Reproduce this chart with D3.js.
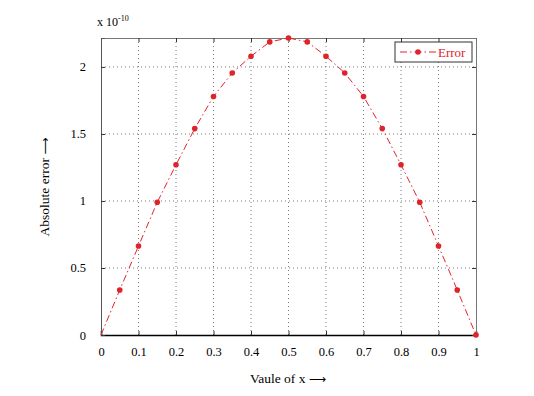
<!DOCTYPE html>
<html><head><meta charset="utf-8">
<script src="https://cdn.jsdelivr.net/npm/d3@7"></script>
<style>body{margin:0;background:#fff}svg{display:block}text{font-family:"Liberation Serif","Times New Roman",serif;}</style>
</head><body><svg id="c" width="534" height="396"></svg>
<script>
const xVals=[0,0.05,0.1,0.15,0.2,0.25,0.3,0.35,0.4,0.45,0.5,0.55,0.6,0.65,0.7,0.75,0.8,0.85,0.9,0.95,1];
const errVals=[0,0.336,0.664,0.99,1.27,1.54,1.78,1.955,2.08,2.187,2.216,2.187,2.08,1.955,1.78,1.54,1.27,0.99,0.664,0.336,0];
const xTicks=[0,0.1,0.2,0.3,0.4,0.5,0.6,0.7,0.8,0.9,1];
const yTicks=[0,0.5,1,1.5,2];
const seriesName="Error";

const svg=d3.select("#c");
const L=101,R=476,T=38,B=335;
const x=d3.scaleLinear().domain([0,1]).range([L,R]);
const y=d3.scaleLinear().domain([0,2.216]).range([B,T]);
const red="#e0232b";

// grid
const g=svg.append("g");
g.selectAll(".vg").data(xTicks.slice(1,-1)).enter().append("line")
 .attr("x1",d=>x(d)).attr("x2",d=>x(d)).attr("y1",T).attr("y2",B)
 .attr("stroke","#555").attr("stroke-width",0.8).attr("stroke-dasharray","1,3");
g.selectAll(".hg").data(yTicks.slice(1)).enter().append("line")
 .attr("x1",L).attr("x2",R).attr("y1",d=>y(d)).attr("y2",d=>y(d))
 .attr("stroke","#555").attr("stroke-width",0.8).attr("stroke-dasharray","1,3");

// axes
const xa=svg.append("g").attr("transform",`translate(0,${B})`)
 .call(d3.axisBottom(x).tickValues(xTicks).tickFormat(d3.format("")).tickSize(-4).tickPadding(12));
const xt=svg.append("g").attr("transform",`translate(0,${T})`)
 .call(d3.axisTop(x).tickValues(xTicks).tickFormat("").tickSize(-4));
const ya=svg.append("g").attr("transform",`translate(${L},0)`)
 .call(d3.axisLeft(y).tickValues(yTicks).tickFormat(d3.format("")).tickSize(-4).tickPadding(15));
const yr=svg.append("g").attr("transform",`translate(${R},0)`)
 .call(d3.axisRight(y).tickValues(yTicks).tickFormat("").tickSize(-4));
[xa,xt,ya,yr].forEach(a=>{
  a.selectAll("text").attr("font-size",12.5).attr("fill","#000").style("font-family",'"Liberation Serif",serif');
  a.selectAll("line").attr("stroke","#333");
});
xt.select(".domain").attr("stroke","#777");
yr.select(".domain").attr("stroke","#777");
ya.select(".domain").attr("stroke","#555");
xa.select(".domain").attr("stroke","#000").attr("stroke-width",1.5);

// line
const line=d3.line().x((d,i)=>x(xVals[i])).y(d=>y(d));
svg.append("path").datum(errVals).attr("d",line).attr("fill","none")
 .attr("stroke",red).attr("stroke-width",1).attr("stroke-dasharray","7,3,1.5,3");
svg.selectAll(".pt").data(errVals.map((v,i)=>[xVals[i],v]).filter(d=>d[0]>0)).enter().append("circle")
 .attr("cx",d=>x(d[0])).attr("cy",d=>y(d[1])).attr("r",2.8).attr("fill",red);

// legend
const lg=svg.append("g");
lg.append("rect").attr("x",395).attr("y",42).attr("width",77).attr("height",20)
 .attr("fill","#fff").attr("stroke","#333").attr("stroke-width",1);
lg.append("line").attr("x1",400).attr("x2",436).attr("y1",52).attr("y2",52)
 .attr("stroke",red).attr("stroke-width",1).attr("stroke-dasharray","7,3,1.5,3");
lg.append("circle").attr("cx",418).attr("cy",52).attr("r",2.8).attr("fill",red);
lg.append("text").attr("x",438).attr("y",56.5).attr("font-size",13).attr("fill",red).text(seriesName);

// exponent label
const ex=svg.append("text").attr("x",97).attr("y",26).attr("font-size",12).attr("fill","#000");
ex.append("tspan").text("x 10");
ex.append("tspan").attr("dy",-5).attr("font-size",8).text("-10");

// titles
const xt2=svg.append("text").attr("x",288).attr("y",383).attr("text-anchor","middle").attr("font-size",13.5);
xt2.append("tspan").text("Vaule of x ");
xt2.append("tspan").style("font-family","'DejaVu Sans'").attr("font-size",12).text("\u27F6");
const yt2=svg.append("text").attr("transform","translate(49,187) rotate(-90)").attr("text-anchor","middle").attr("font-size",13.5);
yt2.append("tspan").text("Absolute error ");
yt2.append("tspan").style("font-family","'DejaVu Sans'").attr("font-size",12).text("\u27F6");
</script></body></html>
